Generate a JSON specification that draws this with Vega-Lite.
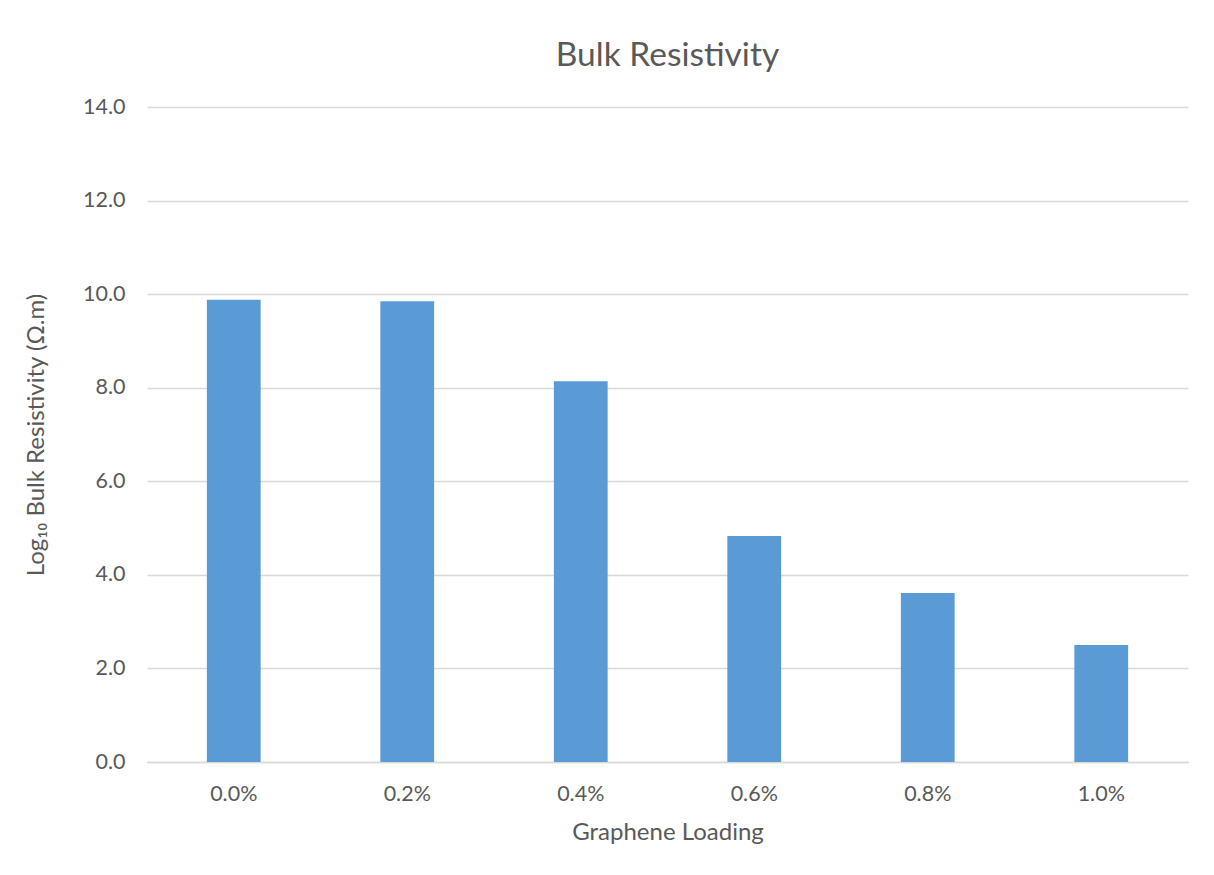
{
  "$schema": "https://vega.github.io/schema/vega-lite/v6.json",
  "autosize": {"type": "none"},
  "width": 1041,
  "height": 655,
  "padding": {"left": 147, "top": 107, "right": 26, "bottom": 113},
  "background": "white",
  "title": {
    "text": "Bulk Resistivity",
    "fontSize": 33.5,
    "font": "Lato",
    "fontWeight": "normal",
    "color": "#595959",
    "anchor": "middle",
    "offset": 23
  },
  "data": {
    "values": [
      {"loading": "0.0%", "value": 9.88},
      {"loading": "0.2%", "value": 9.85},
      {"loading": "0.4%", "value": 8.14},
      {"loading": "0.6%", "value": 4.83},
      {"loading": "0.8%", "value": 3.61},
      {"loading": "1.0%", "value": 2.50}
    ]
  },
  "mark": {"type": "bar", "color": "#5B9BD5"},
  "encoding": {
    "x": {
      "field": "loading",
      "type": "nominal",
      "sort": null,
      "scale": {"paddingInner": 0.69, "paddingOuter": 0.345},
      "axis": {
        "title": "Graphene Loading",
        "labelAngle": 0,
        "ticks": false,
        "labelPadding": 21,
        "titlePadding": 16,
        "domainColor": "#D9D9D9",
        "domainWidth": 1.5
      }
    },
    "y": {
      "field": "value",
      "type": "quantitative",
      "scale": {"domain": [0, 14], "nice": false},
      "axis": {
        "title": "Log₁₀ Bulk Resistivity (Ω.m)",
        "values": [0, 2, 4, 6, 8, 10, 12, 14],
        "format": ".1f",
        "ticks": false,
        "domain": false,
        "labelPadding": 22,
        "titlePadding": 34,
        "gridColor": "#D9D9D9",
        "gridWidth": 1.5
      }
    }
  },
  "config": {
    "view": {"stroke": null},
    "font": "Lato",
    "axis": {
      "labelFont": "Lato",
      "titleFont": "Lato",
      "labelFontSize": 21.5,
      "titleFontSize": 24,
      "titleFontWeight": "normal",
      "labelColor": "#595959",
      "titleColor": "#595959"
    }
  }
}
